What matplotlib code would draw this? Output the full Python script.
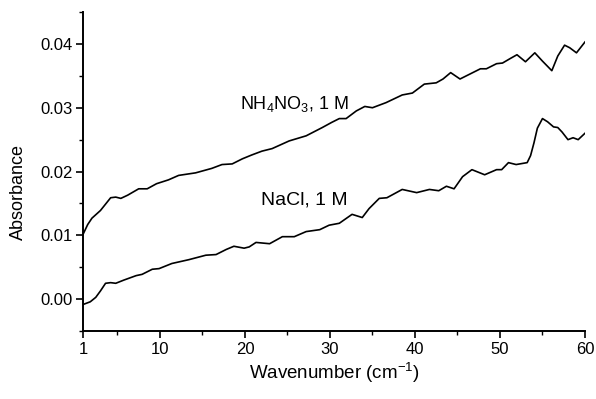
import numpy as np
import matplotlib
matplotlib.use("Agg")
import matplotlib.pyplot as plt
from matplotlib.ticker import MultipleLocator

plt.rcParams['font.family'] = ['Liberation Sans', 'DejaVu Sans']
plt.rcParams['mathtext.fontset'] = 'custom'
plt.rcParams['mathtext.rm'] = 'Liberation Sans'
plt.rcParams['mathtext.it'] = 'Liberation Sans'

""" Data read off the spectrum """
nh4_x = [1.0, 1.5, 2.0, 3.0, 3.6, 4.2, 4.8, 5.4, 6.2, 7.5, 8.5, 9.6, 11.0, 12.2, 14.2,
         16.1, 17.3, 18.5, 19.7, 20.8, 22.0, 23.2, 25.2, 27.2, 29.1, 30.2, 31.1, 31.9,
         33.1, 34.1, 35.0, 36.6, 38.5, 39.7, 41.1, 42.5, 43.3, 44.2, 45.3, 46.5, 47.7,
         48.4, 49.6, 50.3, 51.2, 52.0, 53.0, 54.1, 55.0, 56.1, 56.8, 57.6, 58.2, 59.0, 60.0]
nh4_y = [0.0103, 0.0117, 0.0127, 0.0139, 0.0149, 0.0159, 0.0160, 0.0158, 0.0163, 0.0173,
         0.0173, 0.0181, 0.0187, 0.0194, 0.0198, 0.0205, 0.0211, 0.0212, 0.0220, 0.0226,
         0.0232, 0.0236, 0.0248, 0.0256, 0.0269, 0.0277, 0.0283, 0.0283, 0.0295, 0.0302,
         0.0300, 0.0308, 0.0320, 0.0323, 0.0337, 0.0339, 0.0345, 0.0355, 0.0345, 0.0353,
         0.0361, 0.0361, 0.0369, 0.0370, 0.0377, 0.0383, 0.0372, 0.0386, 0.0373, 0.0358,
         0.0381, 0.0398, 0.0394, 0.0386, 0.0403]

nacl_x = [1.0, 1.8, 2.45, 3.0, 3.6, 4.2, 4.8, 5.75, 7.2, 7.9, 9.1, 9.9, 11.4, 13.4, 15.4,
          16.6, 17.8, 18.7, 19.9, 20.5, 21.3, 22.9, 24.4, 25.8, 27.2, 28.8, 29.9, 31.1,
          32.6, 33.8, 34.6, 35.8, 36.7, 38.5, 40.2, 41.7, 42.8, 43.7, 44.6, 45.6, 46.7,
          48.2, 49.6, 50.2, 51.0, 51.9, 53.2, 53.6, 54.0, 54.4, 55.0, 55.6, 56.3, 56.8,
          57.3, 58.0, 58.6, 59.2, 60.0]
nacl_y = [-0.0008, -0.0004, 0.0003, 0.0013, 0.0025, 0.0026, 0.0025, 0.0030, 0.0037, 0.0039,
          0.0047, 0.0048, 0.0056, 0.0062, 0.0069, 0.0070, 0.0078, 0.0083, 0.0080, 0.0082,
          0.0089, 0.0087, 0.0098, 0.0098, 0.0106, 0.0109, 0.0116, 0.0119, 0.0133, 0.0128,
          0.0142, 0.0158, 0.0159, 0.0172, 0.0167, 0.0172, 0.0170, 0.0177, 0.0173, 0.0192,
          0.0203, 0.0195, 0.0203, 0.0203, 0.0214, 0.0211, 0.0214, 0.0225, 0.0245, 0.0268,
          0.0283, 0.0278, 0.0270, 0.0269, 0.0262, 0.0250, 0.0253, 0.0250, 0.0260]

x_ticks = [1, 10, 20, 30, 40, 50, 60]
y_ticks = [0.00, 0.01, 0.02, 0.03, 0.04]

""" Plotting """
fig = plt.figure(figsize=(5.96, 3.99), dpi=100)
ax = fig.add_axes([0.140, 0.170, 0.8415, 0.800])

ax.plot(nh4_x, nh4_y, color='black', lw=1.2)
ax.plot(nacl_x, nacl_y, color='black', lw=1.2)

ax.text(19.4, 0.0306, r'NH$_4$NO$_3$, 1 M', fontsize=13, va='center', ha='left')
ax.text(21.9, 0.0156, 'NaCl, 1 M', fontsize=14, va='center', ha='left')

ax.set_xlim(1, 60)
ax.set_ylim(-0.005, 0.045)
ax.set_xticks(x_ticks)
ax.set_yticks(y_ticks)
ax.set_yticklabels(['%.2f' % v for v in y_ticks])
ax.xaxis.set_minor_locator(MultipleLocator(5))
ax.yaxis.set_minor_locator(MultipleLocator(0.005))

for side in ['top', 'right']:
    ax.spines[side].set_visible(False)
for side in ['left', 'bottom']:
    ax.spines[side].set_linewidth(1.4)

ax.tick_params(which='major', direction='out', length=5, width=1.2, labelsize=12, pad=3)
ax.tick_params(which='minor', direction='out', length=3, width=1.0)

ax.set_xlabel(r'Wavenumber (cm$^{-1}$)', fontsize=13.5)
ax.set_ylabel('Absorbance', fontsize=13)
ax.xaxis.set_label_coords(0.5, -0.13)
ax.xaxis.label.set_va('center')
ax.yaxis.set_label_coords(-0.13, 0.436)
ax.yaxis.label.set_va('center')

fig.savefig('out.png', dpi=100)
